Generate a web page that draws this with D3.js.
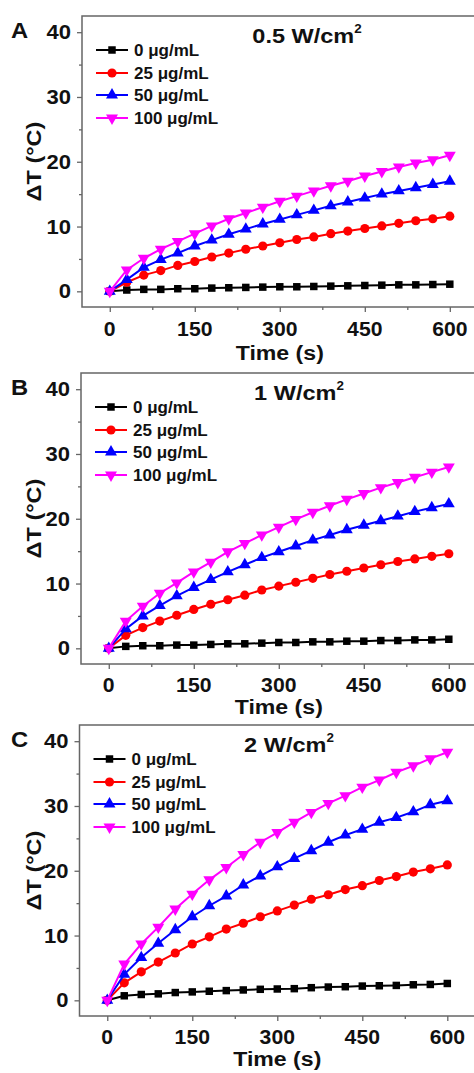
<!DOCTYPE html>
<html>
<head>
<meta charset="utf-8">
<script src="https://cdn.jsdelivr.net/npm/d3@7"></script>
<style>
  body { margin: 0; background: #fff; }
  svg { display: block; }
  text { font-family: "Liberation Sans", Arial, sans-serif; font-weight: bold; fill: #111; }
  .frame { fill: none; stroke: #666; stroke-width: 1.5; }
  .tick line { stroke: #666; stroke-width: 1.3; }
  .domain { display: none; }
</style>
</head>
<body>
<div id="chart"></div>
<script>
// time points (s)
var times = [0,30,60,90,120,150,180,210,240,270,300,330,360,390,420,450,480,510,540,570,600];
var concLabels = ["0 \u03bcg/mL", "25 \u03bcg/mL", "50 \u03bcg/mL", "100 \u03bcg/mL"];
var xTicks = [0,150,300,450,600];
var yTicks = [0,10,20,30,40];

// panel A, 0.5 W/cm2
var a0   = [0,0.2,0.3,0.3,0.4,0.4,0.5,0.55,0.6,0.65,0.7,0.7,0.75,0.8,0.85,0.9,0.95,1.0,1.0,1.05,1.1];
var a25  = [0,1.4,2.5,3.2,4.0,4.6,5.3,5.9,6.5,7.0,7.5,8.0,8.4,8.9,9.3,9.7,10.1,10.5,10.9,11.2,11.6];
var a50  = [0,1.8,3.7,4.9,5.9,7.0,7.9,8.8,9.6,10.4,11.1,11.8,12.5,13.2,13.8,14.4,15.0,15.5,16.0,16.5,17.0];
var a100 = [0,3.3,5.1,6.5,7.7,8.9,10.1,11.2,12.1,13.0,13.9,14.7,15.5,16.3,17.0,17.8,18.5,19.2,19.8,20.3,21.0];
// panel B, 1 W/cm2
var b0   = [0,0.3,0.4,0.4,0.5,0.5,0.6,0.7,0.7,0.8,0.9,0.9,1.0,1.0,1.1,1.1,1.2,1.2,1.3,1.3,1.4];
var b25  = [0,2.0,3.2,4.2,5.1,6.0,6.8,7.5,8.2,9.0,9.6,10.2,10.8,11.4,11.9,12.4,12.9,13.4,13.8,14.2,14.6];
var b50  = [0,3.0,5.0,6.6,8.1,9.4,10.6,11.8,12.9,14.0,14.9,15.8,16.7,17.5,18.3,19.0,19.7,20.4,21.1,21.7,22.3];
var b100 = [0,4.2,6.5,8.5,10.1,11.8,13.3,14.9,16.2,17.5,18.7,19.9,21.0,22.0,23.0,23.9,24.8,25.6,26.4,27.2,28.0];
// panel C, 2 W/cm2
var c0   = [0,0.7,0.9,1.0,1.2,1.3,1.4,1.5,1.6,1.7,1.75,1.8,1.95,2.05,2.1,2.2,2.25,2.3,2.4,2.45,2.6];
var c25  = [0,2.7,4.4,5.9,7.3,8.7,9.8,11.0,11.9,12.9,13.8,14.7,15.6,16.3,17.1,17.7,18.5,19.1,19.8,20.3,20.9];
var c50  = [0,4.0,6.6,8.8,10.9,12.9,14.6,16.1,17.8,19.2,20.6,21.9,23.1,24.4,25.5,26.4,27.5,28.2,29.1,30.2,30.8];
var c100 = [0,5.6,8.7,11.3,14.1,16.4,18.6,20.5,22.5,24.4,25.9,27.5,29.0,30.4,31.6,32.9,34.0,35.2,36.2,37.3,38.3];

var colors = ["#000000", "#ff0000", "#0000ff", "#ff00ff"];
var shapes = [d3.symbolSquare, d3.symbolCircle, d3.symbolTriangle, d3.symbolTriangle];
var sizes = [56, 66, 62, 62];
var rot = [0, 0, 0, 180];

var panels = [
  {letter:"A", title:"0.5 W/cm", series:[a0,a25,a50,a100], left:82, top:16, titleX:307, timeOff:53, tickOff:29},
  {letter:"B", title:"1 W/cm",   series:[b0,b25,b50,b100], left:81, top:373, titleX:299, timeOff:50, tickOff:28},
  {letter:"C", title:"2 W/cm",   series:[c0,c25,c50,c100], left:79.5, top:725, titleX:289, timeOff:50, tickOff:28}
];

var W = 474, H = 1073;
var svg = d3.select("#chart").append("svg").attr("width", W).attr("height", H);

var pw = 400, ph = 291;

// text placed at (x,y) and widened a bit, the original lettering is broad
function wideText(g, x, y, sx, size, str, anchor, angle){
  return g.append("text")
    .attr("transform", "translate(" + x + "," + y + ")" + (angle ? " rotate(" + angle + ")" : "") + " scale(" + sx + ",1)")
    .attr("text-anchor", anchor || "middle").style("font-size", size + "px").text(str);
}

panels.forEach(function(p){
  var x = d3.scaleLinear().domain([-49, 656.8]).range([0, pw]);
  var y = d3.scaleLinear().domain([-2.42, 42.5]).range([ph, 0]);
  var g = svg.append("g").attr("transform", "translate(" + p.left + "," + p.top + ")");

  // axes ticks
  g.append("g").attr("transform", "translate(0," + ph + ")")
    .call(d3.axisBottom(x).tickValues(xTicks).tickSize(5).tickFormat(""));
  g.append("g").attr("transform", "translate(0," + ph + ")")
    .call(d3.axisBottom(x).tickValues([75,225,375,525]).tickSize(3).tickFormat(""));
  g.append("g").call(d3.axisLeft(y).tickValues(yTicks).tickSize(5).tickFormat(""));
  g.append("g").call(d3.axisLeft(y).tickValues([5,15,25,35]).tickSize(3).tickFormat(""));

  xTicks.forEach(function(d){
    wideText(g, x(d), ph + p.tickOff, 1.06, 20, d);
  });
  yTicks.forEach(function(d){
    wideText(g, -11, y(d) + 7, 1.1, 20, d, "end");
  });

  g.append("rect").attr("class", "frame").attr("width", pw).attr("height", ph);

  // series
  var line = d3.line().x((d,i)=>x(times[i])).y(d=>y(d));
  p.series.forEach(function(s, k){
    g.append("path").datum(s).attr("d", line)
      .attr("fill", "none").attr("stroke", colors[k]).attr("stroke-width", 2);
    g.selectAll(".m" + k).data(s).enter().append("path")
      .attr("d", d3.symbol().type(shapes[k]).size(sizes[k]))
      .attr("transform", (d,i)=>"translate(" + x(times[i]) + "," + y(d) + ") rotate(" + rot[k] + ")")
      .attr("fill", colors[k]);
  });

  // legend
  concLabels.forEach(function(lab, k){
    var ly = [34,57,79,102][k];
    g.append("line").attr("x1", 14).attr("x2", 46).attr("y1", ly).attr("y2", ly)
      .attr("stroke", colors[k]).attr("stroke-width", 2);
    g.append("path").attr("d", d3.symbol().type(shapes[k]).size(sizes[k]))
      .attr("transform", "translate(30," + ly + ") rotate(" + rot[k] + ")")
      .attr("fill", colors[k]);
    g.append("text").attr("x", 52).attr("y", ly).attr("dy", "0.36em")
      .style("font-size", "17px").text(lab);
  });

  // title
  var t = wideText(g, p.titleX - p.left, 27, 1.12, 21, p.title);
  t.append("tspan").attr("dy", -10).style("font-size", "12px").text("2");

  // axis titles
  wideText(g, x(300), ph + p.timeOff, 1.1, 21, "Time (s)");
  wideText(g, 41 - p.left, ph / 2, 1.12, 21, "\u0394T (\u00b0C)", "middle", -90);

  // panel letter
  wideText(g, 11 - p.left, 22, 1.08, 22, p.letter, "start");
});
</script>
</body>
</html>
